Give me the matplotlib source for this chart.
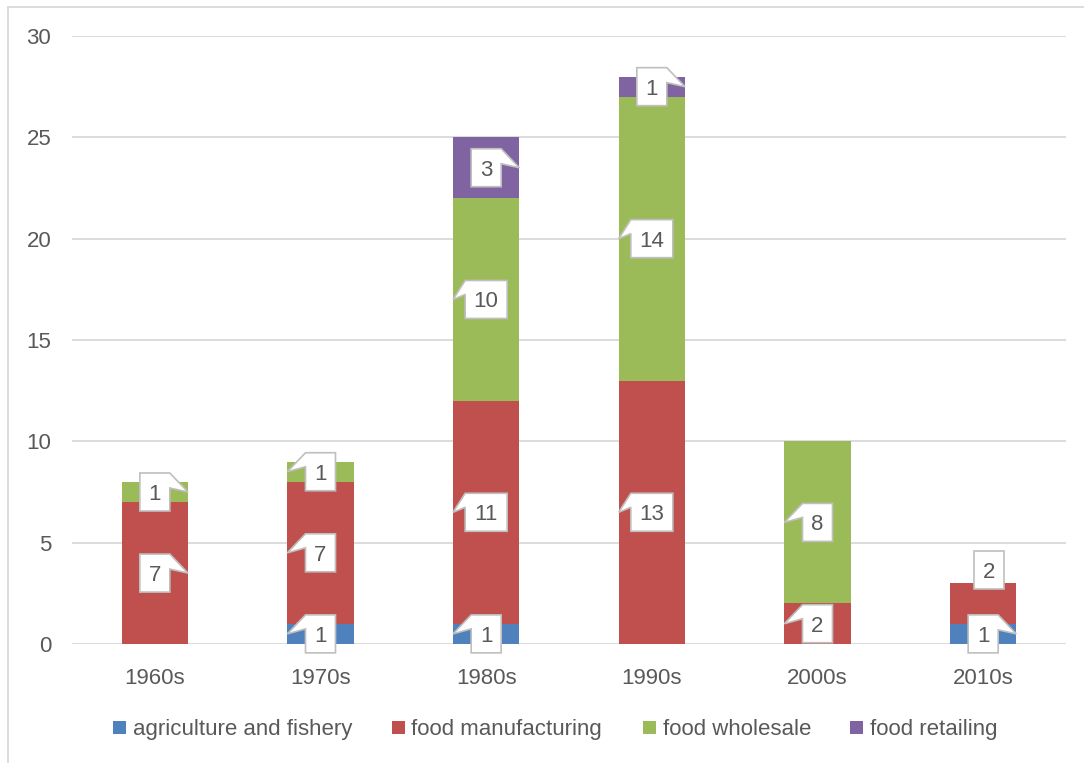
import matplotlib
matplotlib.use("Agg")
import matplotlib.pyplot as plt
from matplotlib.patches import Polygon, Rectangle
from matplotlib.lines import Line2D
from matplotlib.transforms import IdentityTransform
import numpy as np

# ---------------- data ----------------
decades = ["1960s", "1970s", "1980s", "1990s", "2000s", "2010s"]
series_names = ["agriculture and fishery", "food manufacturing",
                "food wholesale", "food retailing"]
agri = [0, 1, 1, 0, 0, 1]
manu = [7, 7, 11, 13, 2, 2]
whole = [1, 1, 10, 14, 8, 0]
retail = [0, 0, 3, 1, 0, 0]
yticks = [0, 5, 10, 15, 20, 25, 30]

# ---------------- style ----------------
colors = ["#4F81BD", "#C0504D", "#9BBB59", "#8064A2"]
# callout pointer side per series/decade: 'R' right edge, 'L' left edge, 'U' box moved up (no pointer)
sides = [
    [None, 'L', 'L', None, None, 'R'],
    ['R', 'L', 'L', 'L', 'L', 'U'],
    ['R', 'L', 'L', 'L', 'L', None],
    [None, None, 'R', 'R', None, None],
]
TXT = "#595959"
GRID = "#D9D9D9"
FONT = "Liberation Sans"
FS = 16

plt.rcParams['font.family'] = [FONT, 'DejaVu Sans']

W, H = 1084, 763
fig = plt.figure(figsize=(W / 100, H / 100), dpi=100)
ax = fig.add_axes([72 / W, 1 - 644 / H, (1066 - 72) / W, (644 - 36) / H])

data = [agri, manu, whole, retail]
x = np.arange(len(decades))
bw = 0.40
bottom = np.zeros(len(decades))
bottoms = []
for vals, c, name in zip(data, colors, series_names):
    bottoms.append(bottom.copy())
    ax.bar(x, vals, bw, bottom=bottom, color=c, label=name, zorder=2)
    bottom = bottom + np.array(vals)

ax.set_xlim(-0.5, len(decades) - 0.5)
ax.set_ylim(0, 30)
ax.set_yticks(yticks)
ax.set_xticks(x)
ax.set_xticklabels(decades)
ax.grid(axis='y', color=GRID, linewidth=1.3, zorder=0)
ax.set_axisbelow(True)
for s in ax.spines.values():
    s.set_visible(False)
ax.tick_params(axis='both', length=0, labelsize=FS, labelcolor=TXT)
ax.tick_params(axis='y', pad=15)
ax.tick_params(axis='x', pad=17.5)

# ---------------- callouts ----------------
fig.canvas.draw()
tdata = ax.transData
ident = IdentityTransform()
for si, vals in enumerate(data):
    for di, v in enumerate(vals):
        side = sides[si][di]
        if v == 0 or side is None:
            continue
        yc = bottoms[si][di] + v / 2.0
        cx, cy = tdata.transform((x[di], yc))
        lx, _ = tdata.transform((x[di] - bw / 2, yc))
        rx, _ = tdata.transform((x[di] + bw / 2, yc))
        txt = str(v)
        bwid = 18 + 12 * len(txt)
        bh = 38
        bcx, bcy = cx, cy
        if side == 'U':
            bcx, bcy = cx + 6, cy + 33
        l, r = bcx - bwid / 2, bcx + bwid / 2
        b, t = bcy - bh / 2, bcy + bh / 2
        if side == 'R':
            verts = [(l, b), (r, b), (r, t - 15), (rx, cy), (r, t), (l, t)]
        elif side == 'L':
            verts = [(l, b), (r, b), (r, t), (l, t), (lx, cy), (l, t - 14)]
        else:
            verts = [(l, b), (r, b), (r, t), (l, t)]
        poly = Polygon(verts, closed=True, facecolor='white', edgecolor='#BFBFBF',
                       linewidth=1.2, transform=ident, zorder=5)
        fig.add_artist(poly)
        fig.text(bcx / W, bcy / H, txt, ha='center', va='center_baseline',
                 fontsize=FS, color=TXT, zorder=6)

# ---------------- legend ----------------
leg_sq_x = [113, 392, 643, 850]
leg_txt_x = [133, 411, 663, 870]
leg_y = 727
for i, name in enumerate(series_names):
    fig.add_artist(Rectangle((leg_sq_x[i] / W, 1 - 734 / H), 13 / W, 13 / H,
                             facecolor=colors[i], edgecolor='none',
                             transform=fig.transFigure))
    fig.text(leg_txt_x[i] / W, 1 - leg_y / H, name, ha='left', va='center_baseline',
             fontsize=FS, color=TXT)

# ---------------- frame ----------------
fig.add_artist(Line2D([7.5 / W, 1.0], [1 - 6.5 / H, 1 - 6.5 / H], color=GRID,
                      linewidth=1.3, transform=fig.transFigure))
fig.add_artist(Line2D([7.5 / W, 7.5 / W], [0, 1 - 6.5 / H], color=GRID,
                      linewidth=1.3, transform=fig.transFigure))

fig.savefig("out.png", dpi=100)
